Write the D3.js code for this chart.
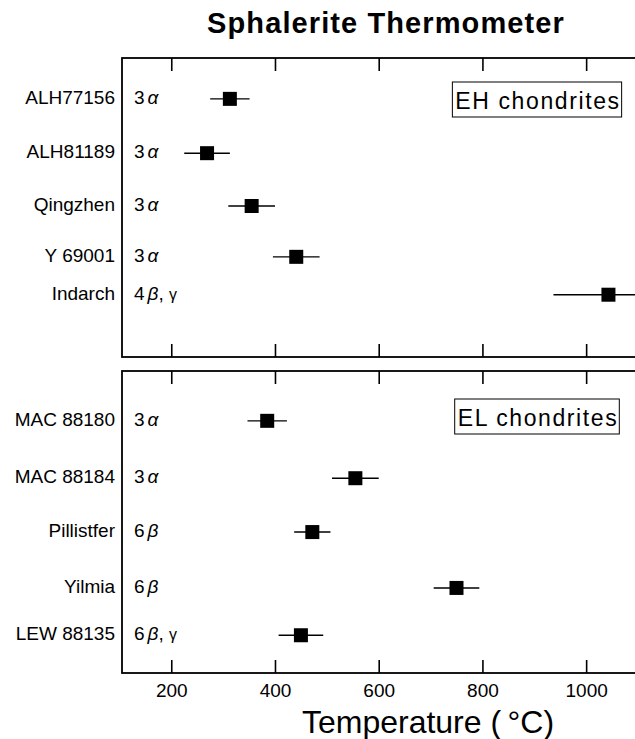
<!DOCTYPE html>
<html>
<head>
<meta charset="utf-8">
<script src="https://cdn.jsdelivr.net/npm/d3@7"></script>
<style>
    body { margin: 0; background: #fff; }
    text { font-family: "Liberation Sans", Arial, Helvetica, sans-serif; fill: #000; }
</style>
</head>
<body>
<svg id="chart"></svg>
<script>
// EH chondrites (top panel)
const ehNames = ['ALH77156', 'ALH81189', 'Qingzhen', 'Y 69001', 'Indarch'];
const ehGrade = ['3', '3', '3', '3', '4'];
const ehSub = ['α', 'α', 'α', 'α', 'β,γ'];
const ehTemp = [313, 269, 355, 441, 1043];
const ehErr = [38, 44, 45, 45, 106];
const ehRow = [0.82, 1.91, 2.97, 3.99, 4.75];

// EL chondrites (bottom panel)
const elNames = ['MAC 88180', 'MAC 88184', 'Pillistfer', 'Yilmia', 'LEW 88135'];
const elGrade = ['3', '3', '6', '6', '6'];
const elSub = ['α', 'α', 'β', 'β', 'β,γ'];
const elTemp = [385, 555, 472, 750, 450];
const elErr = [38, 45, 35, 44, 43];
const elRow = [0.99, 2.13, 3.2, 4.31, 5.25];

const xTicks = [200, 400, 600, 800, 1000];
const xDomain = [105, 1100];
const rowDomain = [0, 6];

const width = 635, height = 739;
const svg = d3.select('#chart').attr('width', width).attr('height', height);

const xScale = d3.scaleLinear().domain(xDomain).range([122, 638]);

svg.append('text')
    .attr('x', 386)
    .attr('y', 33)
    .attr('text-anchor', 'middle')
    .attr('font-size', '29px')
    .attr('font-weight', 'bold')
    .attr('letter-spacing', '1.1px')
    .text('Sphalerite Thermometer');

function drawPanel(top, bottom, names, grade, sub, temp, err, row, label, boxY) {
    let yScale = d3.scaleLinear().domain(rowDomain).range([top, bottom]);
    let g = svg.append('g');

    // frame
    g.append('rect')
        .attr('x', xScale(xDomain[0]))
        .attr('y', top)
        .attr('width', xScale(xDomain[1]) - xScale(xDomain[0]))
        .attr('height', bottom - top)
        .attr('fill', 'none')
        .attr('stroke', '#000')
        .attr('stroke-width', 1.8);

    // inward ticks, top and bottom
    g.append('g')
        .attr('transform', 'translate(0,' + top + ')')
        .call(d3.axisBottom(xScale).tickValues(xTicks).tickSize(13).tickFormat(''))
        .call(a => a.select('.domain').remove())
        .selectAll('line').attr('stroke-width', 1.6);
    g.append('g')
        .attr('transform', 'translate(0,' + bottom + ')')
        .call(d3.axisTop(xScale).tickValues(xTicks).tickSize(13).tickFormat(''))
        .call(a => a.select('.domain').remove())
        .selectAll('line').attr('stroke-width', 1.6);

    let idx = d3.range(names.length);

    // sample names
    g.selectAll('.name').data(idx).enter().append('text')
        .attr('class', 'name')
        .attr('x', 115)
        .attr('y', i => yScale(row[i]) + 5)
        .attr('text-anchor', 'end')
        .attr('font-size', '19px')
        .text(i => names[i]);

    // petrologic type
    let types = g.selectAll('.type').data(idx).enter().append('text')
        .attr('class', 'type')
        .attr('x', 134)
        .attr('y', i => yScale(row[i]) + 5)
        .attr('font-size', '19px');
    types.append('tspan').text(i => grade[i]);
    types.each(function(i) {
        let t = d3.select(this);
        let parts = sub[i].split(',');
        t.append('tspan').attr('dx', 3).attr('font-style', 'italic').text(parts[0]);
        if (parts.length > 1) {
            t.append('tspan').text(', ');
            t.append('tspan').attr('font-size', '16px').text(parts[1]);
        }
    });

    // error bars
    g.selectAll('.err').data(idx).enter().append('line')
        .attr('class', 'err')
        .attr('x1', i => xScale(temp[i] - err[i]))
        .attr('x2', i => xScale(temp[i] + err[i]))
        .attr('y1', i => yScale(row[i]))
        .attr('y2', i => yScale(row[i]))
        .attr('stroke', '#000')
        .attr('stroke-width', 1.4);

    // squares
    let s = 14;
    g.selectAll('.pt').data(idx).enter().append('rect')
        .attr('class', 'pt')
        .attr('x', i => xScale(temp[i]) - s / 2)
        .attr('y', i => yScale(row[i]) - s / 2)
        .attr('width', s)
        .attr('height', s)
        .attr('fill', '#000');

    // group label box
    let lab = g.append('text')
        .attr('x', 538)
        .attr('y', boxY + 27)
        .attr('text-anchor', 'middle')
        .attr('font-size', '23px')
        .attr('letter-spacing', '1.6px')
        .text(label);
    let bb = lab.node().getBBox();
    g.insert('rect', () => lab.node())
        .attr('x', bb.x - 3)
        .attr('y', boxY)
        .attr('width', bb.width + 4)
        .attr('height', 35)
        .attr('fill', '#fff')
        .attr('stroke', '#000')
        .attr('stroke-width', 1);
}

drawPanel(58, 357, ehNames, ehGrade, ehSub, ehTemp, ehErr, ehRow, 'EH chondrites', 82);
drawPanel(371, 673, elNames, elGrade, elSub, elTemp, elErr, elRow, 'EL chondrites', 399);

// x tick labels
svg.append('g')
    .attr('transform', 'translate(0,673)')
    .call(d3.axisBottom(xScale).tickValues(xTicks).tickSize(0).tickPadding(11).tickFormat(d3.format('d')))
    .call(a => a.select('.domain').remove())
    .selectAll('text')
    .attr('font-size', '19px')
    .attr('font-family', '"Liberation Sans", Arial, sans-serif');

svg.append('text')
    .attr('x', 428)
    .attr('y', 733)
    .attr('text-anchor', 'middle')
    .attr('font-size', '32px')
    .text('Temperature (\u2009°C)');
</script>
</body>
</html>
